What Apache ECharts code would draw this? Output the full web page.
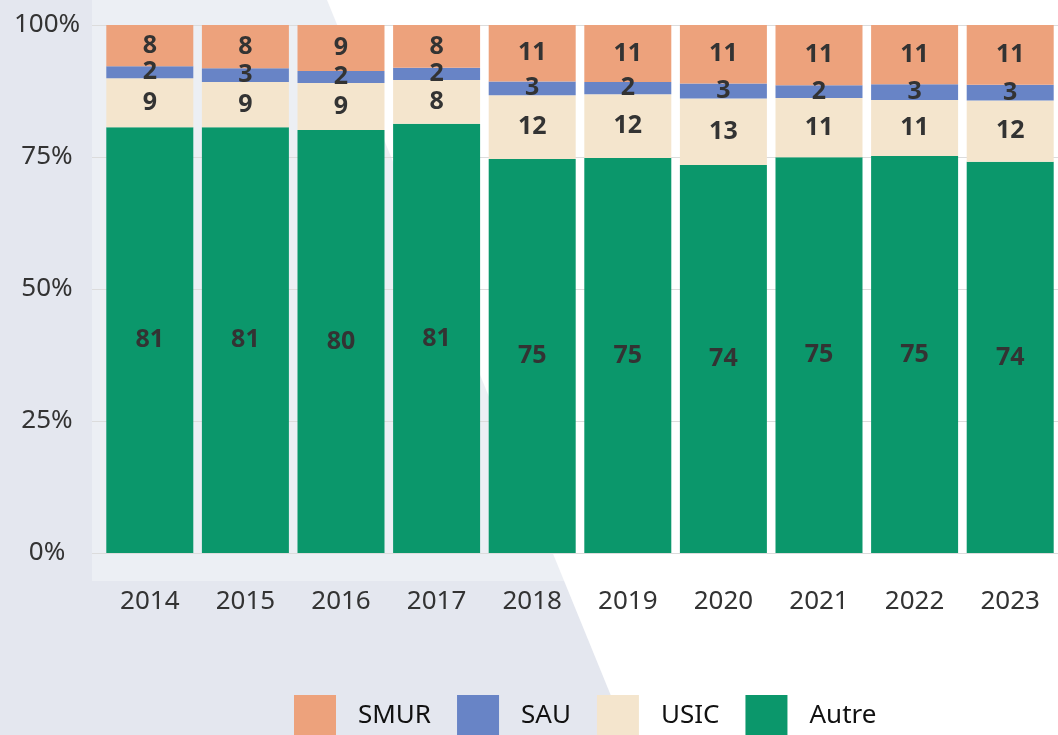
<!DOCTYPE html>
<html>
<head>
<meta charset="utf-8">
<script src="https://cdn.jsdelivr.net/npm/echarts@6/dist/echarts.min.js"></script>
<style>
  html, body { margin: 0; padding: 0; background: #fff; }
  #chart { width: 1058px; height: 735px; }
</style>
</head>
<body>
<div id="chart"></div>
<script>
var years = ['2014', '2015', '2016', '2017', '2018', '2019', '2020', '2021', '2022', '2023'];
var autre = [80.7, 80.7, 80.1, 81.2, 74.6, 74.8, 73.5, 74.9, 75.2, 74.1];
var usic  = [9.3, 8.6, 8.9, 8.3, 12.1, 12.1, 12.6, 11.2, 10.6, 11.6];
var sau   = [2.3, 2.6, 2.3, 2.3, 2.6, 2.3, 2.8, 2.4, 3.0, 3.0];
var smur  = [7.8, 8.2, 8.7, 8.1, 10.7, 10.8, 11.1, 11.4, 11.2, 11.3];
var yTicks = [0, 25, 50, 75, 100];

var font = 'Noto Sans';

// ramener chaque année à 100 %
function norm(arr) {
    return arr.map(function (v, i) {
        var tot = autre[i] + usic[i] + sau[i] + smur[i];
        return v / tot * 100;
    });
}

var myChart = echarts.init(document.getElementById('chart'));

function serie(name, data, color) {
    return {
        name: name,
        type: 'bar',
        stack: 'total',
        barCategoryGap: '9%',
        data: norm(data),
        itemStyle: { color: color },
        label: {
            show: true,
            position: 'inside',
            formatter: function (p) { return Math.round(p.value); },
            color: '#333',
            fontFamily: font,
            fontWeight: 'bold',
            fontSize: 25
        }
    };
}

var option = {
    backgroundColor: '#fff',
    animation: false,
    graphic: [
        {
            type: 'polygon',
            z: -10,
            shape: { points: [[0, 0], [327, 0], [627, 735], [0, 735]] },
            style: { fill: '#e4e7ef' }
        },
        {
            type: 'rect',
            z: -9,
            shape: { x: 92, y: 0, width: 966, height: 581 },
            style: { fill: 'rgba(255,255,255,0.32)' }
        }
    ],
    legend: {
        data: ['SMUR', 'SAU', 'USIC', 'Autre'],
        left: 289,
        top: 690,
        icon: 'rect',
        itemWidth: 42,
        itemHeight: 42,
        itemGap: 26,
        textStyle: {
            fontFamily: font,
            fontSize: 26,
            color: '#111',
            padding: [0, 0, 0, 17]
        }
    },
    grid: [
        { left: 102, right: 0, top: 25, bottom: 182 },
        { left: 92, right: 0, top: 25, bottom: 182 }
    ],
    xAxis: [{
        type: 'category',
        data: years,
        gridIndex: 0,
        axisTick: { show: false },
        axisLine: { lineStyle: { color: '#dcdcdc', width: 1 } },
        axisLabel: {
            color: '#333',
            fontFamily: font,
            fontSize: 26,
            margin: 36
        }
    }, {
        type: 'category',
        data: years,
        gridIndex: 1,
        show: false
    }],
    yAxis: [{
        type: 'value',
        gridIndex: 0,
        min: 0,
        max: 100,
        interval: 25,
        axisLine: { show: false },
        axisTick: { show: false },
        splitLine: { show: false },
        axisLabel: {
            color: '#333',
            fontFamily: font,
            fontSize: 26,
            align: 'center',
            margin: 55,
            formatter: function (v) { return yTicks.indexOf(v) > -1 ? v + '%' : ''; }
        }
    }, {
        type: 'value',
        gridIndex: 1,
        min: 0,
        max: 100,
        interval: 25,
        axisLine: { show: false },
        axisTick: { show: false },
        axisLabel: { show: false },
        splitLine: { lineStyle: { color: '#dcdcdc', width: 1 } }
    }],
    series: [
        serie('Autre', autre, '#0b976b'),
        serie('USIC', usic, '#f4e5cd'),
        serie('SAU', sau, '#6884c6'),
        serie('SMUR', smur, '#eda27c')
    ]
};

myChart.setOption(option);
window.addEventListener('resize', function () {
    myChart.resize();
});
</script>
</body>
</html>
